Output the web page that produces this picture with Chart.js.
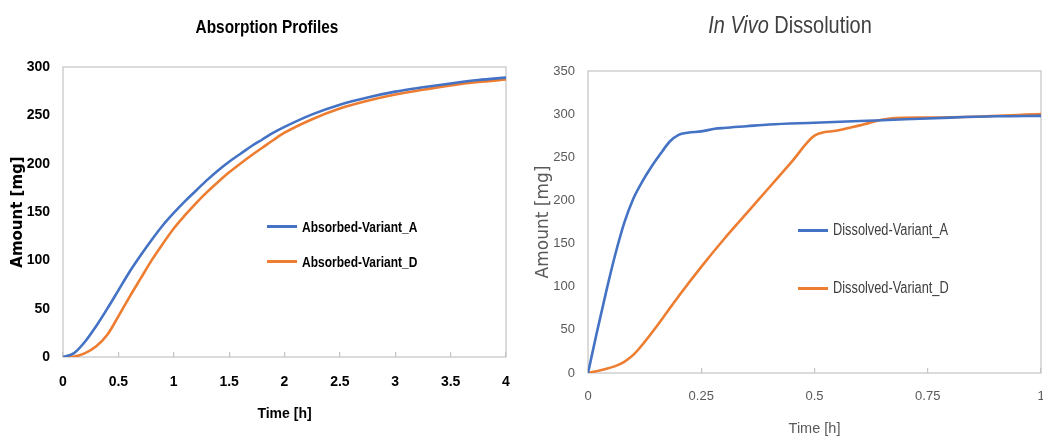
<!DOCTYPE html>
<html>
<head>
<meta charset="utf-8">
<script src="https://cdn.jsdelivr.net/npm/chart.js@4/dist/chart.umd.min.js"></script>
<style>
  html, body { margin: 0; padding: 0; background: #fff; overflow: hidden; width: 1043px; height: 437px; }
  .panel { position: absolute; top: 0; }
  .title { position: absolute; white-space: nowrap; line-height: 1; font-family: 'Liberation Sans', Arial, sans-serif; }
  .legend { position: absolute; white-space: nowrap; line-height: 1; }
  .legend .sw { position: absolute; height: 3px; }
  .legend .tx { position: absolute; transform-origin: left center; font-family: 'Liberation Sans', Arial, sans-serif; }
</style>
</head>
<body>

<div class="panel" style="left:0;width:520px;height:437px;"><canvas id="absChart" width="520" height="437"></canvas></div>
<div class="panel" style="left:520px;width:560px;height:460px;"><canvas id="dissChart" width="560" height="460"></canvas></div>

<div class="title" style="left:267px;top:26px;transform:translate(-50%,-50%) scaleX(0.81);font-size:19px;font-weight:bold;color:#000;">Absorption Profiles</div>
<div class="title" style="left:790px;top:25px;transform:translate(-50%,-50%) scaleX(0.83);font-size:24px;color:#404040;"><i>In Vivo</i> Dissolution</div>

<div id="absLegend"></div>
<div id="dissLegend"></div>

<script>
// ---- data ----
var absTime = [0, 0.1, 0.2, 0.3, 0.4, 0.5, 0.6, 0.7, 0.8, 0.9, 1, 1.1, 1.2, 1.3, 1.4, 1.5, 1.6, 1.7, 1.8, 1.9, 2,
               2.25, 2.5, 2.75, 3, 3.25, 3.5, 3.75, 4];
var absorbedA = [0, 4, 16, 32, 50, 69, 88, 105, 121, 136, 149, 161, 172, 183, 193, 202, 210, 218, 225, 232, 238,
                 251, 261, 268.5, 274.5, 279, 283, 286.5, 289];
var absorbedD = [0, 0.5, 4, 11, 23, 42, 62, 81, 100, 117, 133, 146.5, 159, 170.5, 181, 191, 200, 208.5, 216.5, 224.5, 232,
                 246, 257, 265, 271.5, 276.5, 281, 284.5, 287];

var dissTimeA = [0, 0.02, 0.04, 0.06, 0.08, 0.1, 0.12, 0.14, 0.16, 0.18, 0.2, 0.22, 0.25, 0.28, 0.3, 0.35, 0.4, 0.5, 0.6, 0.7, 0.8, 0.9, 1];
var dissolvedA = [0, 48, 94, 137, 174, 202, 222, 239, 254, 268, 276, 278.5, 280, 283, 284, 286, 288, 290, 292, 294, 296, 297.5, 298];
var dissTimeD = [0, 0.03, 0.06, 0.08, 0.1, 0.125, 0.15, 0.175, 0.2, 0.25, 0.3, 0.35, 0.4, 0.45, 0.5, 0.55, 0.6, 0.667, 0.75, 0.85, 1];
var dissolvedD = [0, 3.5, 8, 13, 21, 36, 53, 71, 89, 123, 155, 185, 215, 245, 275, 281, 287, 295, 296, 297, 300];

var absXTicks = [0, 0.5, 1, 1.5, 2, 2.5, 3, 3.5, 4];
var absYTicks = [0, 50, 100, 150, 200, 250, 300];
var dissXTicks = [0, 0.25, 0.5, 0.75, 1];
var dissYTicks = [0, 50, 100, 150, 200, 250, 300, 350];

var absNames = ['Absorbed-Variant_A', 'Absorbed-Variant_D'];
var dissNames = ['Dissolved-Variant_A', 'Dissolved-Variant_D'];

var BLUE = '#4472C4';
var ORANGE = '#ED7D31';
var SANS = "'Liberation Sans', Arial, sans-serif";

function pairs(xs, ys) {
    return xs.map(function(x, i) { return { x: x, y: ys[i] }; });
}

// box round the plot area
var frame = {
    id: 'frame',
    beforeDatasetsDraw: function(chart) {
        var a = chart.chartArea, ctx = chart.ctx;
        ctx.save();
        ctx.strokeStyle = '#c4c4c4';
        ctx.lineWidth = 1.2;
        ctx.strokeRect(a.left, a.top, a.right - a.left, a.bottom - a.top);
        ctx.restore();
    }
};

function makeChart(id, cfg) {
    var ctx = document.getElementById(id).getContext('2d');
    return new Chart(ctx, {
        type: 'line',
        data: {
            datasets: [
                { label: cfg.names[0], data: cfg.a, borderColor: BLUE, backgroundColor: BLUE,
                  borderWidth: 2.6, pointRadius: 0, cubicInterpolationMode: 'monotone' },
                { label: cfg.names[1], data: cfg.d, borderColor: ORANGE, backgroundColor: ORANGE,
                  borderWidth: 2.6, pointRadius: 0, cubicInterpolationMode: 'monotone' }
            ]
        },
        options: {
            responsive: false,
            animation: false,
            layout: { padding: cfg.padding },
            plugins: { legend: { display: false }, title: { display: false }, tooltip: { enabled: false } },
            scales: {
                x: {
                    type: 'linear',
                    min: cfg.xTicks[0],
                    max: cfg.xTicks[cfg.xTicks.length - 1],
                    afterBuildTicks: function(s) { s.ticks = cfg.xTicks.map(function(v) { return { value: v }; }); },
                    afterFit: function(s) { s.height = cfg.xHeight; s.paddingLeft = 0; s.paddingRight = 0; },
                    border: { display: false },
                    grid: { drawOnChartArea: false, drawTicks: true, tickLength: -5, color: '#c4c4c4', lineWidth: 1.2 },
                    ticks: { padding: cfg.xTickPad, color: cfg.color, font: cfg.tickFont, maxRotation: 0, autoSkip: false,
                             callback: function(v) { return String(v); } },
                    title: { display: true, text: 'Time [h]', color: cfg.color, font: cfg.xTitleFont, padding: 0 }
                },
                y: {
                    min: cfg.yTicks[0],
                    max: cfg.yTicks[cfg.yTicks.length - 1],
                    afterBuildTicks: function(s) { s.ticks = cfg.yTicks.map(function(v) { return { value: v }; }); },
                    afterFit: function(s) { s.width = cfg.yWidth; s.paddingTop = 0; s.paddingBottom = 0; },
                    border: { display: false },
                    grid: { display: false, drawTicks: false },
                    ticks: { padding: 13, color: cfg.color, font: cfg.tickFont, callback: function(v) { return String(v); } },
                    title: { display: true, text: 'Amount [mg]', color: cfg.color, font: cfg.yTitleFont, padding: { top: cfg.yTitlePad, bottom: 0 } }
                }
            }
        },
        plugins: [frame]
    });
}

makeChart('absChart', {
    names: absNames,
    a: pairs(absTime, absorbedA),
    d: pairs(absTime, absorbedD),
    xTicks: absXTicks,
    yTicks: absYTicks,
    padding: { left: 0, right: 14, top: 67, bottom: 14 },
    xHeight: 66,
    yWidth: 63,
    xTickPad: 22,
    yTitlePad: 9,
    color: '#000',
    tickFont: { family: SANS, size: 14, weight: 'bold' },
    xTitleFont: { family: SANS, size: 14, weight: 'bold' },
    yTitleFont: { family: 'DejaVu Sans', size: 15, weight: 'bold' }
});

makeChart('dissChart', {
    names: dissNames,
    a: pairs(dissTimeA, dissolvedA),
    d: pairs(dissTimeD, dissolvedD),
    xTicks: dissXTicks,
    yTicks: dissYTicks,
    padding: { left: 0, right: 39, top: 71, bottom: 22 },
    xHeight: 65,
    yWidth: 68,
    xTickPad: 21,
    yTitlePad: 13,
    color: '#595959',
    tickFont: { family: SANS, size: 13 },
    xTitleFont: { family: SANS, size: 14.5 },
    yTitleFont: { family: 'DejaVu Sans', size: 17 }
});

// legends placed inside the plot areas, as in the picture
function buildLegend(id, names, spots, style) {
    var box = document.getElementById(id);
    names.forEach(function(name, i) {
        var s = spots[i];
        var item = document.createElement('div');
        item.className = 'legend';
        item.innerHTML = '<div class="sw" style="left:' + s.x + 'px;top:' + (s.y - 1.5) + 'px;width:30px;background:' + [BLUE, ORANGE][i] + '"></div>' +
            '<div class="tx" style="left:' + (s.x + 35) + 'px;top:' + s.y + 'px;transform:translateY(-50%) scaleX(0.8);' + style + '">' + name + '</div>';
        box.appendChild(item);
    });
}
buildLegend('absLegend', absNames, [{ x: 267, y: 226 }, { x: 267, y: 261 }],
    "font-size:15px;font-weight:bold;color:#000;");
buildLegend('dissLegend', dissNames, [{ x: 798, y: 230 }, { x: 798, y: 288 }],
    "font-size:16px;color:#404040;");
</script>
</body>
</html>
